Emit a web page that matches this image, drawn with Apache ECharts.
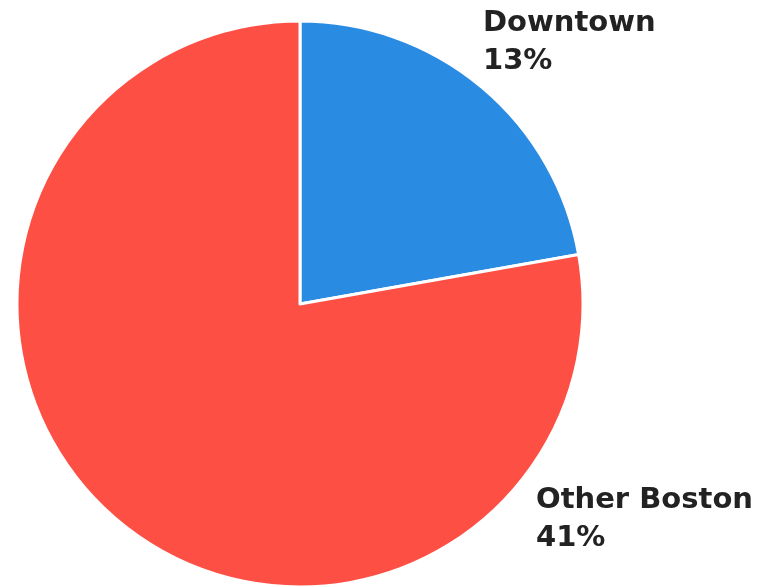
<!DOCTYPE html>
<html>
<head>
<meta charset="utf-8">
<script src="https://cdn.jsdelivr.net/npm/echarts@6/dist/echarts.min.js"></script>
<style>
html,body{margin:0;padding:0;background:#fff;}
#chart{width:758px;height:587px;}
</style>
</head>
<body>
<div id="chart"></div>
<script>
// Data
var categories = ['Downtown', 'Other Boston'];
var sliceShares = [22.2, 77.8];          // angular share of the pie
var percentLabels = ['13%', '41%'];       // printed labels
var sliceColors = ['#2a8be3', '#fd4f44'];

var chart = echarts.init(document.getElementById('chart'), null, {renderer: 'canvas'});

var labelSpots = [
  {x: 483, y: 42},
  {x: 536, y: 519}
];

chart.setOption({
  animation: false,
  backgroundColor: '#ffffff',
  series: [{
    type: 'pie',
    center: [300, 304],
    radius: 283,
    startAngle: 90,
    clockwise: true,
    avoidLabelOverlap: false,
    itemStyle: {borderColor: '#ffffff', borderWidth: 3},
    label: {
      show: true,
      position: 'outside',
      formatter: function (p) { return p.name + '\n' + percentLabels[p.dataIndex]; },
      fontFamily: 'DejaVu Sans',
      fontWeight: 'bold',
      fontSize: 29,
      lineHeight: 38,
      color: '#222222'
    },
    labelLine: {show: false},
    labelLayout: function (params) {
      var s = labelSpots[params.dataIndex];
      return {x: s.x, y: s.y, align: 'left', verticalAlign: 'middle'};
    },
    emphasis: {disabled: true},
    data: categories.map(function (c, i) {
      return {name: c, value: sliceShares[i], itemStyle: {color: sliceColors[i]}};
    })
  }]
});
</script>
</body>
</html>
